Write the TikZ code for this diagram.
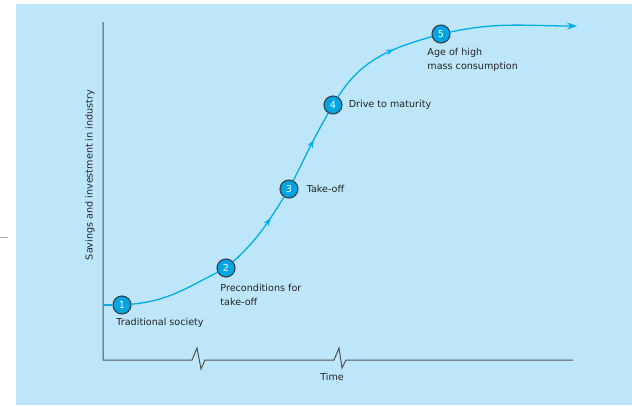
\documentclass[tikz,border=0pt]{standalone}
\usepackage{fontspec}
\setmainfont{DejaVu Sans}
\usetikzlibrary{calc,positioning,arrows.meta,decorations.markings}

\definecolor{bgblue}{RGB}{189,230,250}
\definecolor{curveblue}{RGB}{0,172,236}
\definecolor{stagefill}{RGB}{0,165,228}
\definecolor{ringgrey}{RGB}{55,65,75}
\definecolor{axisgrey}{RGB}{80,80,80}
\definecolor{textgrey}{RGB}{35,35,35}

\begin{document}
\begin{tikzpicture}
          [ x=1pt, y=-1pt,
            font=\fontsize{9.6}{14}\selectfont,
            stage/.style={
              circle,
              draw=ringgrey,
              line width=1.1pt,
              fill=stagefill,
              text=white,
              minimum size=18pt,
              inner sep=0pt},
            caption/.style={
              text=textgrey,
              align=left,
              inner sep=1pt},
            curve/.style={
              draw=curveblue,
              line width=1.3pt},
            midarrow/.style={
              postaction={decorate,
                decoration={markings,
                  mark=at position #1 with {\arrow[curveblue]{Stealth[length=8pt,width=6pt]}}}}},
            axis/.style={
              draw=axisgrey,
              line width=1pt},
          ]

          \useasboundingbox (0,0) rectangle (632,405);
          \fill[bgblue] (16,4) rectangle (632,405);
          \draw[gray!70, line width=1pt] (0,237) -- (8,237);

          \node (s1) [stage] at (122,305) {1};
          \node (s2) [stage] at (226,268) {2};
          \node (s3) [stage] at (289,189) {3};
          \node (s4) [stage] at (333,105) {4};
          \node (s5) [stage] at (441,34) {5};

          \coordinate (start) at (103,305);
          \coordinate (finish) at (577,26);
          \coordinate (ytop) at (103,22);
          \coordinate (origin) at (103,360);
          \coordinate (xend) at (573,360);

          % axes with the two breaks
          \draw[axis] (ytop) -- (origin) -- (192,360) -- ++(5,-12) -- ++(4,21) -- ++(4,-9)
            -- (334,360) -- ++(5,-12) -- ++(3,20) -- ++(4,-8) -- (xend);

          \node (tlabel) [caption] at (332,377) {Time};
          \node (ylabel) [caption, rotate=90] at (90,175) {Savings and investment in industry};

          \draw[curve] (start) -- (s1);
          \draw[curve] (s1) to[out=5, in=207] (s2);
          \draw[curve, midarrow=0.7] (s2) to[out=42, in=238] (s3);
          \draw[curve, midarrow=0.6] (s3) to[out=63, in=240] (s4);
          \draw[curve, midarrow=0.65] (s4) to[out=58, in=196] (s5);
          \draw[curve, -{Stealth[length=10pt,width=7pt]}] (s5) to[out=12, in=180] (finish);

          \node (l1) [caption, below=5pt of s1.south west, anchor=north west] {Traditional society};
          \node (l2) [caption, below=8pt of s2.south west, anchor=north west] {Preconditions for\\take-off};
          \node (l3) [caption, right=7pt of s3] {Take-off};
          \node (l4) [caption, right=5pt of s4] {Drive to maturity};
          \node (l5) [caption, below=6pt of s5.south west, anchor=north west, xshift=-8pt] {Age of high\\mass consumption};

        \end{tikzpicture}
\end{document}
